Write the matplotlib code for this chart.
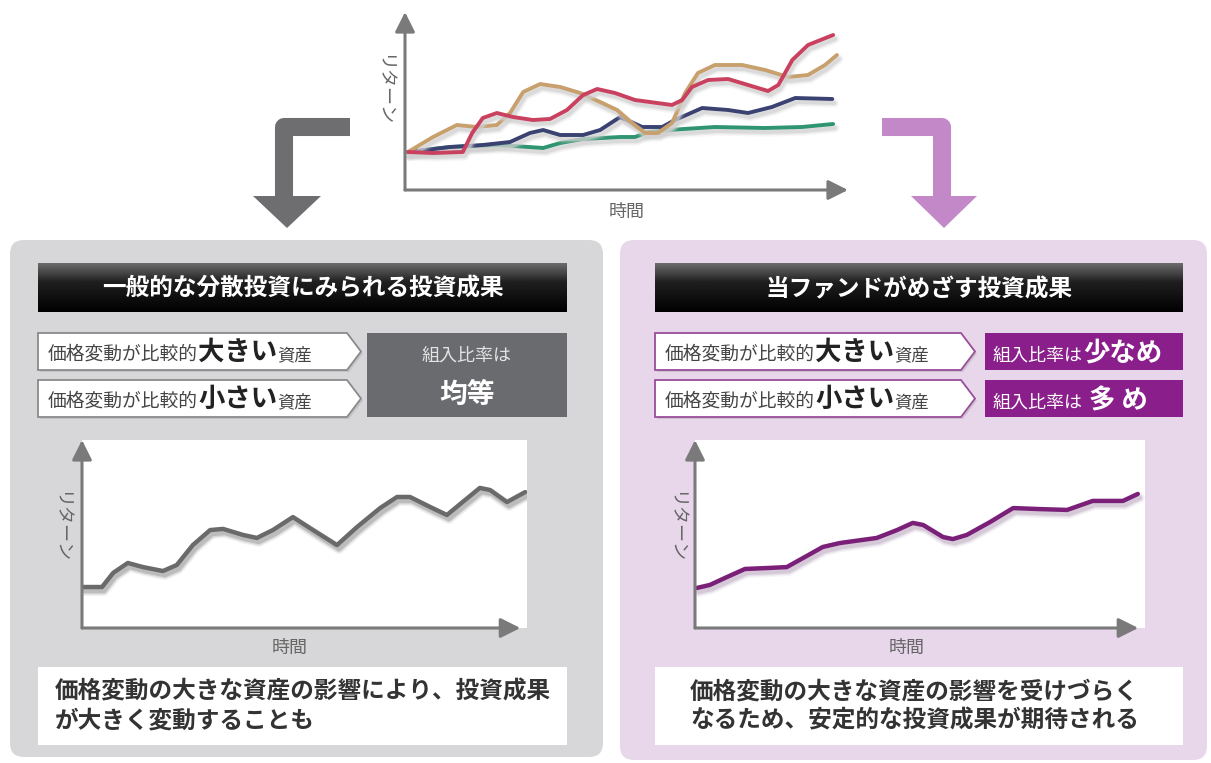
import matplotlib
matplotlib.use("Agg")
import numpy as np
import matplotlib.pyplot as plt
from matplotlib.patches import FancyBboxPatch, Polygon, Rectangle
from matplotlib import transforms

plt.rcParams['font.family'] = ['Noto Sans CJK JP', 'DejaVu Sans']

W, H = 1211, 763

# --- data (time, return index) ---
top_t_green = [0, 0.99, 2.16, 3.18, 3.58, 4.12, 4.99, 5.34, 5.65, 6.12, 7.22, 8.4, 9.27, 10]
top_r_green = [0, 0.5, 0.7, 0.4, 0.9, 1.3, 1.5, 1.5, 2.0, 2.2, 2.5, 2.4, 2.5, 2.8]

top_t_navy = [0, 0.99, 1.76, 2.4, 2.87, 3.18, 3.58, 4.12, 4.52, 4.99, 5.51, 5.98, 6.28,
              6.92, 7.53, 8.0, 8.56, 9.11, 9.98]
top_r_navy = [0, 0.5, 0.7, 1.0, 1.9, 2.2, 1.7, 1.7, 2.2, 3.5, 2.5, 2.5, 3.2,
              4.4, 4.2, 3.9, 4.5, 5.4, 5.3]

top_t_tan = [0, 0.59, 1.15, 1.62, 2.09, 2.4, 2.71, 3.11, 3.58, 4.05, 4.52, 4.92, 5.27,
             5.58, 5.88, 6.21, 6.52, 6.82, 7.22, 7.86, 8.4, 8.94, 9.41, 9.81, 10.09]
top_r_tan = [0, 1.5, 2.7, 2.5, 2.7, 3.9, 6.0, 6.8, 6.5, 5.9, 5.0, 4.2, 2.9,
             1.9, 1.9, 2.9, 5.9, 7.9, 8.7, 8.7, 8.2, 7.5, 7.7, 8.7, 9.7]

top_t_red = [0, 0.59, 1.29, 1.51, 1.76, 2.09, 2.47, 2.94, 3.34, 3.74, 4.12, 4.45, 4.87,
             5.34, 6.21, 6.45, 6.68, 7.06, 7.53, 8.0, 8.47, 8.71, 9.04, 9.41, 10.0]
top_r_red = [0, -0.1, 0, 1.9, 3.4, 3.9, 3.5, 3.2, 3.3, 4.2, 5.7, 6.3, 5.9,
             5.2, 4.7, 5.2, 6.5, 7.2, 7.3, 6.7, 6.1, 6.7, 9.2, 10.7, 11.7]

left_t = [0.02, 0.45, 0.70, 1.03, 1.37, 1.82, 2.13, 2.49, 2.88, 3.17, 3.62, 3.93, 4.29, 4.74,
          5.12, 5.73, 6.18, 6.70, 7.08, 7.37, 7.82, 8.20, 8.61, 8.94, 9.17, 9.55, 9.96]
left_r = [2.18, 2.18, 2.93, 3.46, 3.24, 3.03, 3.35, 4.41, 5.21, 5.27, 4.95, 4.79, 5.21, 5.90,
          5.32, 4.41, 5.37, 6.38, 6.97, 6.97, 6.44, 6.01, 6.81, 7.45, 7.34, 6.70, 7.23]

right_t = [0.04, 0.33, 0.71, 1.11, 1.60, 2.04, 2.40, 2.84, 3.22, 4.04, 4.49, 4.84, 5.07, 5.51,
           5.73, 6.04, 6.56, 7.07, 7.60, 8.27, 8.84, 9.51, 9.84]
right_r = [2.13, 2.29, 2.71, 3.14, 3.19, 3.24, 3.72, 4.31, 4.52, 4.79, 5.21, 5.59, 5.48, 4.84,
           4.73, 4.95, 5.64, 6.38, 6.33, 6.28, 6.76, 6.76, 7.13]

left_title = "一般的な分散投資にみられる投資成果"
right_title = "当ファンドがめざす投資成果"
left_note = "価格変動の大きな資産の影響により、投資成果\nが大きく変動することも"
right_note = "価格変動の大きな資産の影響を受けづらく\nなるため、安定的な投資成果が期待される"

fig = plt.figure(figsize=(W / 100, H / 100), dpi=100)
bg = fig.add_axes([0, 0, 1, 1])
bg.axis('off')


def px_axes(l, t, r, b):
    return fig.add_axes([l / W, 1 - b / H, (r - l) / W, (b - t) / H])


def draw_axis_arrows(ax, color='#7a7a7a', xend=1.0):
    for xy in [(0, 1), (xend, 0)]:
        ax.annotate('', xy=xy, xytext=(0, 0), xycoords='axes fraction',
                    arrowprops=dict(arrowstyle='-|>,head_length=0.8,head_width=0.4',
                                    color=color, lw=2.2, shrinkA=0, shrinkB=0,
                                    mutation_scale=15),
                    annotation_clip=False)


def shadowed(ax, t, r, color, lw, shadow='#b8b8b8'):
    for w, a in [(lw + 4, 0.15), (lw + 2, 0.3), (lw, 0.6)]:
        tr = transforms.offset_copy(ax.transData, fig=fig, x=2, y=-4, units='dots')
        ax.plot(t, r, color=shadow, lw=w, alpha=a, transform=tr,
                solid_joinstyle='round', solid_capstyle='round')
    ax.plot(t, r, color=color, lw=lw, solid_joinstyle='round', solid_capstyle='round')


def text_runs(x, y, runs):
    r = fig.canvas.get_renderer()
    for s, size, weight, color in runs:
        tx = bg.text(x, y, s, fontsize=size, fontweight=weight, color=color,
                     ha='left', va='baseline')
        bb = tx.get_window_extent(renderer=r)
        x += bb.width


# panels
bg.add_patch(FancyBboxPatch((10, 240), 593, 517, boxstyle='round,pad=0,rounding_size=14',
                            fc='#d7d7d9', ec='none'))
bg.add_patch(FancyBboxPatch((620, 240), 587, 520, boxstyle='round,pad=0,rounding_size=14',
                            fc='#e8d6eb', ec='none'))

# bent arrows
bg.plot([350, 284, 284], [126.5, 126.5, 198], color='#6e6e70', lw=13,
        solid_joinstyle='round', solid_capstyle='butt')
bg.add_patch(Polygon([(253, 196), (321, 196), (287, 228)], closed=True, fc='#6e6e70', ec='none'))
bg.plot([882, 942, 942], [127, 127, 198], color='#c288c7', lw=13,
        solid_joinstyle='round', solid_capstyle='butt')
bg.add_patch(Polygon([(911, 196), (977, 196), (944, 228)], closed=True, fc='#c288c7', ec='none'))

# headers with gradient
grad = np.concatenate([np.linspace(0.42, 0.12, 20), np.linspace(0.12, 0.0, 30)])[:, None]
for (x0, x1), title in [((38, 567), left_title), ((655, 1183), right_title)]:
    bg.imshow(grad, cmap='gray', vmin=0, vmax=1, extent=(x0, x1, 312, 263),
              origin='upper', aspect='auto', zorder=2)
    bg.text((x0 + x1) / 2, 289, title, color='white', fontsize=17, fontweight='bold',
            ha='center', va='center', zorder=3)

# pentagon labels
for x0, x1, ec in [(38, 361, '#8a8a8a'), (655, 975, '#9a4d9a')]:
    for y0, y1 in [(333, 370), (380, 417)]:
        ym = (y0 + y1) / 2
        pts = [(x0, y0), (x1 - 14, y0), (x1, ym), (x1 - 14, y1), (x0, y1)]
        sh = [(px + 2, py + 2) for px, py in pts]
        bg.add_patch(Polygon(sh, closed=True, fc='#b0b0b0', ec='none', alpha=0.5))
        bg.add_patch(Polygon(pts, closed=True, fc='white', ec=ec, lw=1.3))

# right-side boxes
bg.add_patch(Rectangle((367, 333), 200, 84, fc='#6a6b6e', ec='none'))
bg.text(467, 356, "組入比率は", color='#e4e4e4', fontsize=13, ha='center', va='center')
bg.text(467, 395, "均等", color='white', fontsize=20, fontweight='bold', ha='center', va='center')
bg.add_patch(Rectangle((985, 333), 198, 37, fc='#8a1f8c', ec='none'))
bg.add_patch(Rectangle((985, 380), 198, 37, fc='#8a1f8c', ec='none'))

bg.set_xlim(0, W)
bg.set_ylim(H, 0)

for x0 in (48, 665):
    text_runs(x0, 360, [("価格変動が比較的", 13.5, 'normal', '#444444'),
                        ("大きい", 19, 'bold', '#222222'),
                        ("資産", 12.5, 'normal', '#444444')])
    text_runs(x0, 407, [("価格変動が比較的", 13.5, 'normal', '#444444'),
                        ("小さい", 19, 'bold', '#222222'),
                        ("資産", 12.5, 'normal', '#444444')])
text_runs(993, 361, [("組入比率は", 13, 'normal', 'white'), ("少なめ", 19, 'bold', 'white')])
text_runs(993, 408, [("組入比率は", 13, 'normal', 'white'), (" 多 め", 19, 'bold', 'white')])

# notes
bg.add_patch(Rectangle((38, 667), 529, 78, fc='white', ec='none'))
bg.add_patch(Rectangle((655, 667), 528, 78, fc='white', ec='none'))
bg.text(55, 706, left_note, fontsize=17, fontweight='bold', color='#333333',
        ha='left', va='center', linespacing=1.25)
bg.text(690, 706, right_note, fontsize=17, fontweight='bold', color='#333333',
        ha='left', va='center', linespacing=1.25)

# axis titles
label_kw = dict(fontsize=13, color='#666666', ha='center', va='center')
bg.text(383, 90, "リターン", rotation=-90, **label_kw)
bg.text(627, 212, "時間", **label_kw)
bg.text(60, 527, "リターン", rotation=-90, **label_kw)
bg.text(290, 648, "時間", **label_kw)
bg.text(675, 527, "リターン", rotation=-90, **label_kw)
bg.text(907, 648, "時間", **label_kw)

# top chart
ax_top = px_axes(405, 12, 848, 190)
ax_top.set_xlim(-0.07, 10.35)
ax_top.set_ylim(-3.8, 14.0)
ax_top.patch.set_alpha(0)
for s in ax_top.spines.values():
    s.set_visible(False)
ax_top.set_xticks([])
ax_top.set_yticks([])
draw_axis_arrows(ax_top)
for t, r, c in [(top_t_green, top_r_green, '#2f9470'),
                (top_t_navy, top_r_navy, '#3a4272'),
                (top_t_tan, top_r_tan, '#c8a06e'),
                (top_t_red, top_r_red, '#c9415f')]:
    shadowed(ax_top, t, r, c, 2.8, shadow='#d0d0d0')

# bottom charts
for (l, r_), t, r, c, sh in [((82, 527), left_t, left_r, '#6a6a6a', '#a8a8a8'),
                             ((695, 1145), right_t, right_r, '#7a2079', '#c9b9cc')]:
    ax = px_axes(l, 440, r_, 628)
    ax.set_facecolor('white')
    ax.set_xlim(0, 10)
    ax.set_ylim(0, 10)
    for s in ax.spines.values():
        s.set_visible(False)
    ax.set_xticks([])
    ax.set_yticks([])
    draw_axis_arrows(ax, xend=0.985)
    shadowed(ax, t, r, c, 3.2, shadow=sh)

fig.savefig('out.png', dpi=100)
